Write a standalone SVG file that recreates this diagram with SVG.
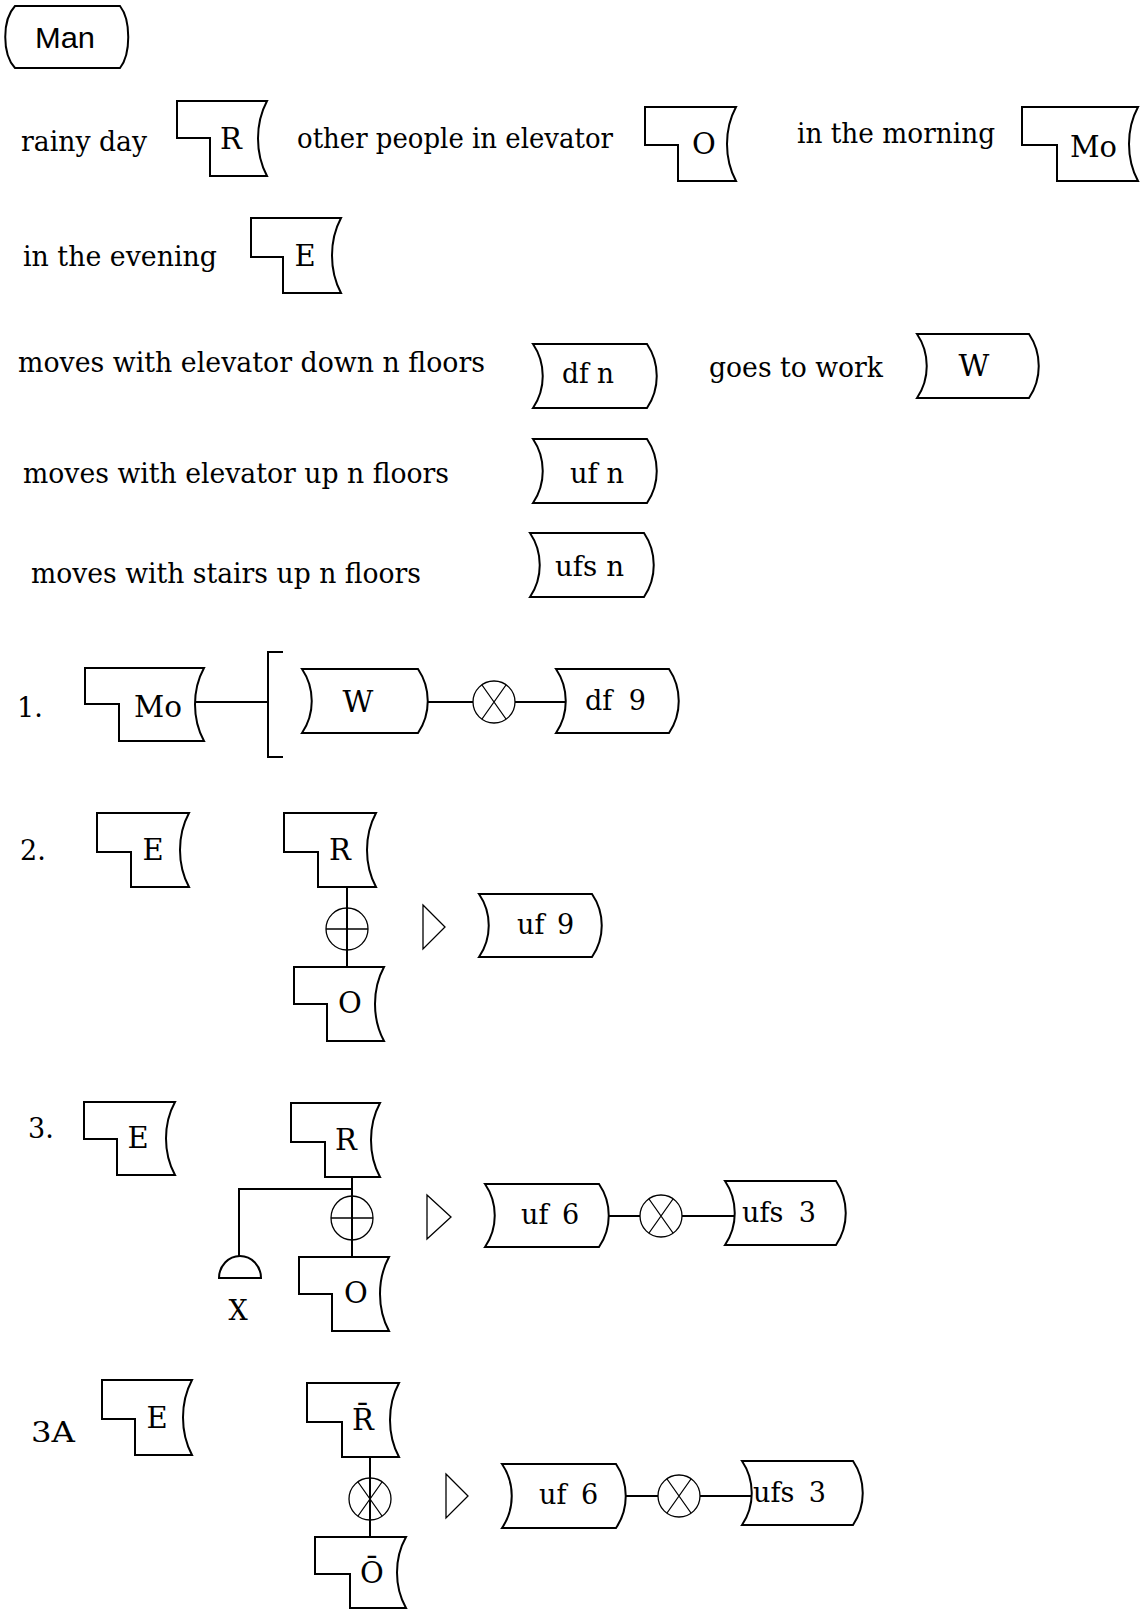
<svg xmlns="http://www.w3.org/2000/svg" width="1141" height="1610" viewBox="0 0 1141 1610">
<style>
.b{fill:none;stroke:#000;stroke-width:2;stroke-linejoin:miter}
.c{fill:none;stroke:#000;stroke-width:1.3}
.l{fill:none;stroke:#000;stroke-width:2}
.t{font-family:"DejaVu Serif","Liberation Serif",serif;font-size:27px;fill:#000}
.k{font-family:"DejaVu Serif","Liberation Serif",serif;font-size:29px;fill:#000}
.w{font-family:"DejaVu Serif","Liberation Serif",serif;font-size:30px;fill:#000}
.s{font-family:"Liberation Sans",Arial,sans-serif;font-size:29px;fill:#000}
</style>
<rect width="1141" height="1610" fill="#fff"/>

<g id="man">
<path class="b" d="M15 6 H120 C131 20 131 54 120 68 H15 C2 54 2 20 15 6 Z"/>
<text class="s" x="35" y="48" textLength="60" lengthAdjust="spacingAndGlyphs">Man</text>
</g>

<g id="legend-texts">
<text class="t" x="21" y="151" textLength="126" lengthAdjust="spacingAndGlyphs">rainy day</text>
<text class="t" x="297" y="148" textLength="316" lengthAdjust="spacingAndGlyphs">other people in elevator</text>
<text class="t" x="797" y="143" textLength="198" lengthAdjust="spacingAndGlyphs">in the morning</text>
<text class="t" x="23" y="266" textLength="194" lengthAdjust="spacingAndGlyphs">in the evening</text>
<text class="t" x="18" y="372" textLength="467" lengthAdjust="spacingAndGlyphs">moves with elevator down n floors</text>
<text class="t" x="709" y="377" textLength="174" lengthAdjust="spacingAndGlyphs">goes to work</text>
<text class="t" x="23" y="483" textLength="426" lengthAdjust="spacingAndGlyphs">moves with elevator up n floors</text>
<text class="t" x="31" y="583" textLength="390" lengthAdjust="spacingAndGlyphs">moves with stairs up n floors</text>
</g>

<g id="legend-R">
<path class="b" d="M177 101 H267 C255 123.5 255 153.5 267 176 H210 V138 H177 Z"/>
<text class="k" x="231" y="149" text-anchor="middle">R</text>
</g>
<g id="legend-O">
<path class="b" d="M645 107 H736 C724 129.2 724 158.8 736 181 H678 V145 H645 Z"/>
<text class="k" x="704" y="154" text-anchor="middle">O</text>
</g>
<g id="legend-Mo">
<path class="b" d="M1022 107 H1138 C1126 129.2 1126 158.8 1138 181 H1057 V145 H1022 Z"/>
<text class="k" x="1070" y="157" textLength="47" lengthAdjust="spacingAndGlyphs">Mo</text>
</g>
<g id="legend-E">
<path class="b" d="M251 218 H341 C329 240.5 329 270.5 341 293 H283 V257 H251 Z"/>
<text class="k" x="305" y="266" text-anchor="middle">E</text>
</g>
<g id="legend-dfn">
<path class="b" d="M533 344 H647 C660 363.2 660 388.8 647 408 H533 C546 388.8 546 363.2 533 344 Z"/>
<text class="t" x="562" y="383" textLength="52" lengthAdjust="spacingAndGlyphs">df n</text>
</g>
<g id="legend-W">
<path class="b" d="M917 334 H1029 C1042 353.2 1042 378.8 1029 398 H917 C930 378.8 930 353.2 917 334 Z"/>
<text class="w" x="974" y="376" text-anchor="middle">W</text>
</g>
<g id="legend-ufn">
<path class="b" d="M533 439 H647 C660 458.2 660 483.8 647 503 H533 C546 483.8 546 458.2 533 439 Z"/>
<text class="t" x="570" y="483" textLength="54" lengthAdjust="spacingAndGlyphs">uf n</text>
</g>
<g id="legend-ufsn">
<path class="b" d="M530 533 H644 C657 552.2 657 577.8 644 597 H530 C543 577.8 543 552.2 530 533 Z"/>
<text class="t" x="555" y="576" textLength="69" lengthAdjust="spacingAndGlyphs">ufs n</text>
</g>

<g id="labels">
<text class="t" x="17" y="717">1.</text>
<text class="t" x="20" y="860">2.</text>
<text class="t" x="28" y="1138">3.</text>
<text class="t" x="31" y="1442" textLength="44" lengthAdjust="spacingAndGlyphs">3A</text>
</g>

<g id="d1-Mo">
<path class="b" d="M85 668 H204 C192 689.9 192 719.1 204 741 H119 V704 H85 Z"/>
<text class="k" x="134" y="717" textLength="48" lengthAdjust="spacingAndGlyphs">Mo</text>
</g>
<g id="d1-W">
<path class="b" d="M302 669 H418 C431 688.2 431 713.8 418 733 H302 C315 713.8 315 688.2 302 669 Z"/>
<text class="w" x="358" y="712" text-anchor="middle">W</text>
</g>
<g id="d1-and">
<ellipse class="c" cx="494" cy="702" rx="21" ry="21"/>
<path class="c" d="M482 685 L506 719 M506 685 L482 719"/>
</g>
<g id="d1-df9">
<path class="b" d="M556 669 H669 C682 688.2 682 713.8 669 733 H556 C569 713.8 569 688.2 556 669 Z"/>
<text class="t" x="585" y="710">df <tspan dx="8">9</tspan></text>
</g>

<g id="d2-E">
<path class="b" d="M97 813 H189 C177 835.2 177 864.8 189 887 H131 V852 H97 Z"/>
<text class="k" x="153" y="860" text-anchor="middle">E</text>
</g>
<g id="d2-R">
<path class="b" d="M284 813 H376 C364 835.2 364 864.8 376 887 H318 V852 H284 Z"/>
<text class="k" x="340" y="860" text-anchor="middle">R</text>
</g>
<g id="d2-or">
<ellipse class="c" cx="347" cy="929" rx="21" ry="21"/>
<path class="c" d="M326 929 H368"/>
</g>
<g id="d2-O">
<path class="b" d="M294 967 H384 C372 989.2 372 1018.8 384 1041 H327 V1004 H294 Z"/>
<text class="k" x="350" y="1013" text-anchor="middle">O</text>
</g>
<g id="d2-tri">
<path class="c" d="M423 905 L445 927 L423 949 Z"/>
</g>
<g id="d2-uf9">
<path class="b" d="M479 894 H592 C605 912.9 605 938.1 592 957 H479 C492 938.1 492 912.9 479 894 Z"/>
<text class="t" x="517" y="934">uf <tspan dx="4">9</tspan></text>
</g>

<g id="d3-E">
<path class="b" d="M84 1102 H175 C163 1123.9 163 1153.1 175 1175 H117 V1139 H84 Z"/>
<text class="k" x="138" y="1148" text-anchor="middle">E</text>
</g>
<g id="d3-R">
<path class="b" d="M291 1103 H380 C368 1125.2 368 1154.8 380 1177 H325 V1142 H291 Z"/>
<text class="k" x="346" y="1150" text-anchor="middle">R</text>
</g>
<g id="d3-or">
<ellipse class="c" cx="352" cy="1218" rx="21" ry="22"/>
<path class="c" d="M331 1218 H373"/>
</g>
<g id="d3-O">
<path class="b" d="M299 1257 H389 C377 1279.2 377 1308.8 389 1331 H332 V1294 H299 Z"/>
<text class="k" x="356" y="1303" text-anchor="middle">O</text>
</g>
<g id="d3-X">
<path class="b" d="M219 1278 A21 22 0 0 1 261 1278 Z"/>
<text class="t" x="238" y="1320" text-anchor="middle">X</text>
</g>
<g id="d3-tri">
<path class="c" d="M427 1195 L451 1217 L427 1239 Z"/>
</g>
<g id="d3-uf6">
<path class="b" d="M485 1184 H599 C612 1202.9 612 1228.1 599 1247 H485 C498 1228.1 498 1202.9 485 1184 Z"/>
<text class="t" x="521" y="1224">uf <tspan dx="5">6</tspan></text>
</g>
<g id="d3-and">
<ellipse class="c" cx="661" cy="1216" rx="21" ry="21"/>
<path class="c" d="M649 1199 L673 1233 M673 1199 L649 1233"/>
</g>
<g id="d3-ufs3">
<path class="b" d="M725 1181 H836 C849 1200.2 849 1225.8 836 1245 H725 C738 1225.8 738 1200.2 725 1181 Z"/>
<text class="t" x="742" y="1222">ufs <tspan dx="7">3</tspan></text>
</g>

<g id="d3a-E">
<path class="b" d="M102 1380 H192 C180 1402.5 180 1432.5 192 1455 H135 V1419 H102 Z"/>
<text class="k" x="157" y="1428" text-anchor="middle">E</text>
</g>
<g id="d3a-Rbar">
<path class="b" d="M307 1383 H399 C387 1405.2 387 1434.8 399 1457 H342 V1422 H307 Z"/>
<text class="k" x="363" y="1430" text-anchor="middle">R&#x0304;</text>
</g>
<g id="d3a-and">
<ellipse class="c" cx="370" cy="1499" rx="21" ry="21"/>
<path class="c" d="M358 1482 L382 1516 M382 1482 L358 1516"/>
</g>
<g id="d3a-Obar">
<path class="b" d="M315 1537 H406 C394 1558.3 394 1586.7 406 1608 H350 V1574 H315 Z"/>
<text class="k" x="372" y="1583" text-anchor="middle">O&#x0304;</text>
</g>
<g id="d3a-tri">
<path class="c" d="M446 1474 L468 1496 L446 1518 Z"/>
</g>
<g id="d3a-uf6">
<path class="b" d="M502 1464 H616 C629 1483.2 629 1508.8 616 1528 H502 C515 1508.8 515 1483.2 502 1464 Z"/>
<text class="t" x="539" y="1504">uf <tspan dx="6">6</tspan></text>
</g>
<g id="d3a-and2">
<ellipse class="c" cx="679" cy="1496" rx="21" ry="21"/>
<path class="c" d="M667 1479 L691 1513 M691 1479 L667 1513"/>
</g>
<g id="d3a-ufs3">
<path class="b" d="M742 1461 H853 C866 1480.2 866 1505.8 853 1525 H742 C755 1505.8 755 1480.2 742 1461 Z"/>
<text class="t" x="753" y="1502">ufs <tspan dx="6">3</tspan></text>
</g>

<g id="connectors">
<path class="l" d="M195 702 H268"/>
<path class="l" d="M283 652 H268 V757 H283"/>
<path class="l" d="M428 702 H473"/>
<path class="l" d="M515 702 H566"/>
<path class="l" d="M347 887 V967"/>
<path class="l" d="M352 1177 V1257"/>
<path class="l" d="M352 1189 H239 V1256"/>
<path class="l" d="M609 1216 H640"/>
<path class="l" d="M682 1216 H735"/>
<path class="l" d="M370 1457 V1537"/>
<path class="l" d="M626 1496 H658"/>
<path class="l" d="M700 1496 H752"/>
</g>
</svg>
